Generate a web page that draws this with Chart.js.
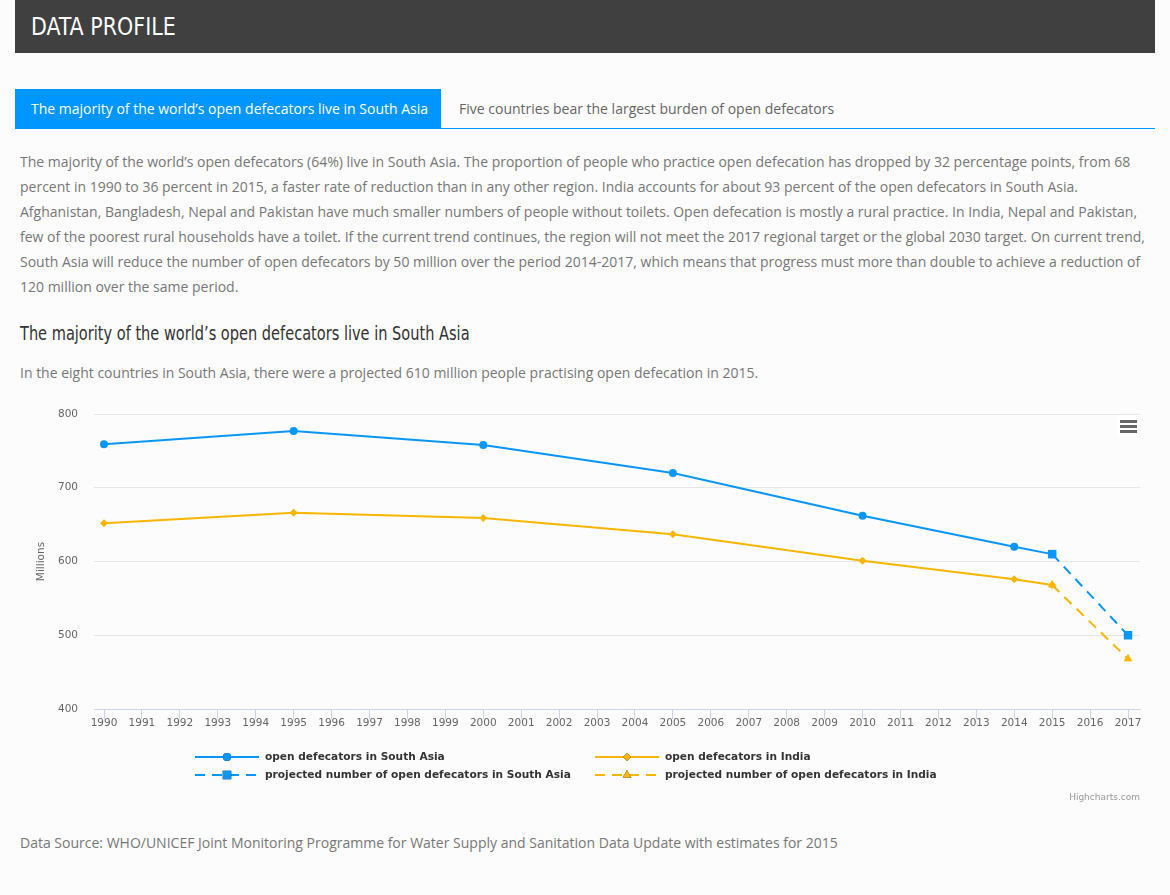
<!DOCTYPE html>
<html>
<head>
<meta charset="utf-8">
<script src="https://cdn.jsdelivr.net/npm/chart.js@4/dist/chart.umd.min.js"></script>
<style>
  body { margin: 0; background: #fcfcfc; font-family: "Open Sans", sans-serif; }
  .abs { position: absolute; white-space: nowrap; }
  #header { left: 15px; top: 0; width: 1140px; height: 53px; background: #404040; }
  #header span { position: absolute; left: 16px; top: 0; line-height: 53px; color: #fff;
    font-family: "DejaVu Sans Condensed", sans-serif; font-size: 25px;
    transform: scaleX(0.917); transform-origin: left center; }
  #tab1 { left: 15px; top: 89px; width: 426px; height: 39px; background: #0096ff; color: #fff;
    font-size: 14px; line-height: 39px; text-indent: 16px; }
  #tab2 { left: 459px; top: 89px; line-height: 39px; font-size: 14px; color: #666; }
  #tabline { left: 15px; top: 128px; width: 1140px; height: 1px; background: #0096ff; }
  #intro { left: 20px; top: 148.5px; font-size: 14px; line-height: 25px; color: #777; }
  #heading { left: 20px; top: 320px; line-height: 26px; font-size: 19px; color: #333;
    font-family: "DejaVu Sans Condensed", sans-serif;
    transform: scaleX(0.852); transform-origin: left center; }
  #sub { left: 20px; top: 360px; line-height: 26px; font-size: 14px; color: #777; }
  #source { left: 20px; top: 830px; line-height: 26px; font-size: 14px; color: #777; }
  #chartBox { left: 0; top: 395px; width: 1170px; height: 420px; }
  #chartBox canvas { display: block; }
  #menu { left: 1117px; top: 415px; width: 23px; height: 22px; background: #fff; border-radius: 2px; }
  #menu i { position: absolute; left: 3px; width: 17px; height: 3px; background: #666; }
  #credit { right: 30px; top: 790px; line-height: 14px; font-size: 9px; color: #999;
    font-family: "DejaVu Sans", sans-serif; }
</style>
</head>
<body>
<div id="header" class="abs"><span>DATA PROFILE</span></div>
<div id="tab1" class="abs">The majority of the world’s open defecators live in South Asia</div>
<div id="tab2" class="abs">Five countries bear the largest burden of open defecators</div>
<div id="tabline" class="abs"></div>
<div id="intro" class="abs">The majority of the world’s open defecators (64%) live in South Asia. The proportion of people who practice open defecation has dropped by 32 percentage points, from 68<br>percent in 1990 to 36 percent in 2015, a faster rate of reduction than in any other region. India accounts for about 93 percent of the open defecators in South Asia.<br>Afghanistan, Bangladesh, Nepal and Pakistan have much smaller numbers of people without toilets. Open defecation is mostly a rural practice. In India, Nepal and Pakistan,<br>few of the poorest rural households have a toilet. If the current trend continues, the region will not meet the 2017 regional target or the global 2030 target. On current trend,<br>South Asia will reduce the number of open defecators by 50 million over the period 2014-2017, which means that progress must more than double to achieve a reduction of<br>120 million over the same period.</div>
<div id="heading" class="abs">The majority of the world’s open defecators live in South Asia</div>
<div id="sub" class="abs">In the eight countries in South Asia, there were a projected 610 million people practising open defecation in 2015.</div>
<div id="chartBox" class="abs"><canvas id="trendChart" width="1170" height="420"></canvas></div>
<div id="menu" class="abs"><i style="top:5px"></i><i style="top:10px"></i><i style="top:15px"></i></div>
<div id="credit" class="abs">Highcharts.com</div>
<div id="source" class="abs">Data Source: WHO/UNICEF Joint Monitoring Programme for Water Supply and Sanitation Data Update with estimates for 2015</div>

<script>
const years = [1990, 1995, 2000, 2005, 2010, 2014, 2015];
const southAsia = [759, 777, 758, 720, 662, 620, 610];
const india = [652, 666, 659, 637, 601, 576, 568];

const projYears = [2015, 2017];
const projSouthAsia = [610, 500];
const projIndia = [568, 468];

const tickYears = [1990, 1991, 1992, 1993, 1994, 1995, 1996, 1997, 1998, 1999, 2000, 2001, 2002, 2003,
    2004, 2005, 2006, 2007, 2008, 2009, 2010, 2011, 2012, 2013, 2014, 2015, 2016, 2017];
const yTicks = [400, 500, 600, 700, 800];

const seriesNames = [
    'open defecators in South Asia',
    'open defecators in India',
    'projected number of open defecators in South Asia',
    'projected number of open defecators in India'
];

const blue = '#0a96f7';
const amber = '#f9b600';

const toPoints = (xs, ys) => xs.map((x, i) => ({ x: x, y: ys[i] }));

// legend drawn like the highcharts one: line + marker, two columns
const legendPlugin = {
    id: 'hcLegend',
    afterDraw(chart) {
        const ctx = chart.ctx;
        const cols = [195, 595];
        const rows = [chart.chartArea.bottom + 48, chart.chartArea.bottom + 66];
        chart.data.datasets.forEach((ds, i) => {
            const x = cols[i % 2];
            const y = rows[Math.floor(i / 2)];
            ctx.save();
            ctx.strokeStyle = ds.borderColor;
            ctx.lineWidth = 2;
            ctx.setLineDash(ds.borderDash || []);
            ctx.beginPath();
            ctx.moveTo(x, y);
            ctx.lineTo(x + 64, y);
            ctx.stroke();
            ctx.setLineDash([]);
            Chart.helpers.drawPoint(ctx, {
                pointStyle: ds.pointStyle,
                radius: ds.pointRadius,
                rotation: 0,
                borderWidth: 0
            }, x + 32, y);
            ctx.fillStyle = ds.borderColor;
            ctx.fill();
            ctx.fillStyle = '#333';
            ctx.font = 'bold 10.6px "DejaVu Sans"';
            ctx.textBaseline = 'middle';
            ctx.fillText(ds.label, x + 70, y);
            ctx.restore();
        });
    }
};

const ctx = document.getElementById('trendChart').getContext('2d');
new Chart(ctx, {
    type: 'line',
    data: {
        datasets: [{
            label: seriesNames[0],
            data: toPoints(years, southAsia),
            borderColor: blue,
            backgroundColor: blue,
            pointStyle: 'circle',
            pointRadius: 4,
            order: 2
        }, {
            label: seriesNames[1],
            data: toPoints(years, india),
            borderColor: amber,
            backgroundColor: amber,
            pointStyle: 'rectRot',
            pointRadius: 4,
            order: 2
        }, {
            label: seriesNames[2],
            data: toPoints(projYears, projSouthAsia),
            borderColor: blue,
            backgroundColor: blue,
            borderDash: [10, 7],
            pointStyle: 'rect',
            pointRadius: 6,
            order: 1
        }, {
            label: seriesNames[3],
            data: toPoints(projYears, projIndia),
            borderColor: amber,
            backgroundColor: amber,
            borderDash: [10, 7],
            pointStyle: 'triangle',
            pointRadius: 5,
            order: 1
        }]
    },
    options: {
        responsive: false,
        animation: false,
        events: [],
        elements: {
            line: { borderWidth: 2, tension: 0, fill: false },
            point: { borderWidth: 0, hoverRadius: 4 }
        },
        layout: { padding: { left: 31, right: 30, top: 19, bottom: 76 } },
        scales: {
            x: {
                type: 'linear',
                min: 1989.736,
                max: 2017.316,
                afterBuildTicks: (scale) => { scale.ticks = tickYears.map(v => ({ value: v })); },
                afterFit: (scale) => { scale.height = 30; },
                grid: { drawOnChartArea: false, drawTicks: true, tickLength: 10, color: '#ccd6eb' },
                border: { color: '#ccd6eb' },
                ticks: {
                    autoSkip: false,
                    maxRotation: 0,
                    padding: -2,
                    color: '#666',
                    font: { family: 'DejaVu Sans', size: 10.5 },
                    callback: (v) => String(v)
                }
            },
            y: {
                min: 400,
                max: 800,
                afterBuildTicks: (scale) => { scale.ticks = yTicks.map(v => ({ value: v })); },
                afterFit: (scale) => { scale.width = 63; },
                grid: { color: '#e6e6e6', drawTicks: true, tickLength: 16, tickColor: 'rgba(0,0,0,0)' },
                border: { display: false },
                ticks: {
                    padding: 0,
                    color: '#666',
                    font: { family: 'DejaVu Sans', size: 10.5 }
                },
                title: {
                    display: true,
                    text: 'Millions',
                    color: '#666',
                    font: { family: 'DejaVu Sans', size: 10.5 }
                }
            }
        },
        plugins: {
            legend: { display: false },
            tooltip: { enabled: false }
        }
    },
    plugins: [legendPlugin]
});
</script>
</body>
</html>
